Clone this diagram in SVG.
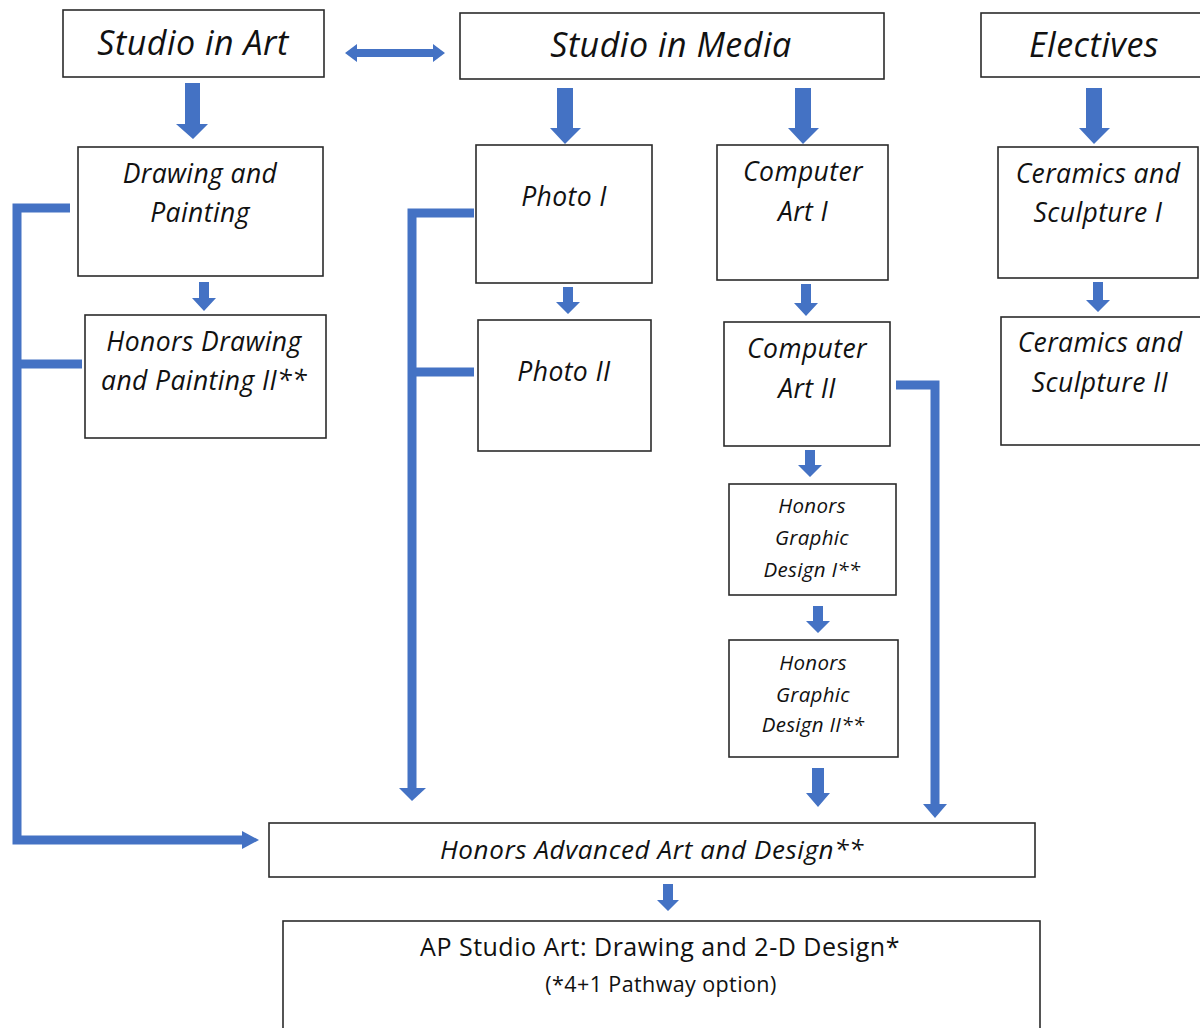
<svg xmlns="http://www.w3.org/2000/svg" width="1200" height="1028" viewBox="0 0 1200 1028">
<style>
.box{fill:#fff;stroke:#2b2b2b;stroke-width:1.6}
.t{font-family:"Open Sans",Lato,sans-serif;font-style:italic;fill:#111;text-anchor:middle}
.big{font-size:34px;letter-spacing:0.5px}
.mid{font-size:26.5px;letter-spacing:0.4px}
.sm{font-size:20.5px;letter-spacing:0.3px}
.ap{font-family:"Open Sans",Lato,sans-serif;fill:#111;text-anchor:middle}
.arr{fill:#4472C4}
.ln{fill:none;stroke:#4472C4;stroke-width:9;stroke-linejoin:miter}
</style>
<rect width="1200" height="1028" fill="#fff"/>
<g id="connectors">
<polygon class="arr" points="345,53 357,44 357,49 433,49 433,44 445,53 433,62 433,57 357,57 357,62"/>
<polygon class="arr" points="185,83 200,83 200,124 208,124 193,139 176,124 185,124"/>
<polygon class="arr" points="557,88 573,88 573,128 581,128 565,144 550,128 557,128"/>
<polygon class="arr" points="795,88 811,88 811,128 819,128 803,144 788,128 795,128"/>
<polygon class="arr" points="1086,88 1102,88 1102,128 1110,128 1094,144 1079,128 1086,128"/>
<polygon class="arr" points="199,282 209,282 209,298 216,298 204,311 192,298 199,298"/>
<polygon class="arr" points="563,287 573,287 573,302 580,302 568,314 556,302 563,302"/>
<polygon class="arr" points="801,284 811,284 811,303 818,303 806,316 794,303 801,303"/>
<polygon class="arr" points="1093,282 1103,282 1103,300 1110,300 1098,312 1086,300 1093,300"/>
<polygon class="arr" points="805,450 815,450 815,465 822,465 810,477 798,465 805,465"/>
<polygon class="arr" points="813,606 823,606 823,621 830,621 818,633 806,621 813,621"/>
<polygon class="arr" points="812,768 824,768 824,793 830,793 818,807 806,793 812,793"/>
<polygon class="arr" points="663,884 673,884 673,900 679,900 668,911 657,900 663,900"/>
<path class="ln" d="M70,208 H17 V840 H244"/>
<path class="ln" d="M17,364 H82"/>
<polygon class="arr" points="242,831 259,840 242,849"/>
<path class="ln" d="M474,213 H412 V790"/>
<path class="ln" d="M412,372 H474"/>
<polygon class="arr" points="399,788 426,788 412,801"/>
<path class="ln" d="M896,385 H935 V806"/>
<polygon class="arr" points="923,804 947,804 935,818"/>
</g>
<g id="studio-in-art"><rect class="box" x="63" y="10" width="261" height="67"/><text class="t big" x="193" y="55">Studio in Art</text></g>
<g id="studio-in-media"><rect class="box" x="460" y="13" width="424" height="66"/><text class="t big" x="671" y="57">Studio in Media</text></g>
<g id="electives"><rect class="box" x="981" y="13" width="230" height="64"/><text class="t big" x="1094" y="57">Electives</text></g>
<g id="drawing-painting"><rect class="box" x="78" y="147" width="245" height="129"/><text class="t mid" x="200" y="183">Drawing and</text><text class="t mid" x="200" y="222">Painting</text></g>
<g id="honors-drawing"><rect class="box" x="85" y="315" width="241" height="123"/><text class="t mid" x="204" y="351">Honors Drawing</text><text class="t mid" x="204" y="390">and Painting II**</text></g>
<g id="photo-1"><rect class="box" x="476" y="145" width="176" height="138"/><text class="t mid" x="564" y="206">Photo I</text></g>
<g id="photo-2"><rect class="box" x="478" y="320" width="173" height="131"/><text class="t mid" x="564" y="381">Photo II</text></g>
<g id="computer-art-1"><rect class="box" x="717" y="145" width="171" height="135"/><text class="t mid" x="803" y="181">Computer</text><text class="t mid" x="803" y="221">Art I</text></g>
<g id="computer-art-2"><rect class="box" x="724" y="322" width="166" height="124"/><text class="t mid" x="807" y="358">Computer</text><text class="t mid" x="807" y="398">Art II</text></g>
<g id="honors-graphic-1"><rect class="box" x="729" y="484" width="167" height="111"/><text class="t sm" x="812" y="513">Honors</text><text class="t sm" x="812" y="545">Graphic</text><text class="t sm" x="812" y="577">Design I**</text></g>
<g id="honors-graphic-2"><rect class="box" x="729" y="640" width="169" height="117"/><text class="t sm" x="813" y="670">Honors</text><text class="t sm" x="813" y="702">Graphic</text><text class="t sm" x="813" y="732">Design II**</text></g>
<g id="ceramics-1"><rect class="box" x="998" y="147" width="200" height="131"/><text class="t mid" x="1098" y="183">Ceramics and</text><text class="t mid" x="1098" y="222">Sculpture I</text></g>
<g id="ceramics-2"><rect class="box" x="1001" y="317" width="210" height="128"/><text class="t mid" x="1100" y="352">Ceramics and</text><text class="t mid" x="1100" y="392">Sculpture II</text></g>
<g id="honors-advanced"><rect class="box" x="269" y="823" width="766" height="54"/><text class="t" x="652" y="859" font-size="26" letter-spacing="0.6">Honors Advanced Art and Design**</text></g>
<g id="ap-studio"><rect class="box" x="283" y="921" width="757" height="120"/><text class="ap" x="660" y="956" font-size="25" letter-spacing="0.5">AP Studio Art: Drawing and 2-D Design*</text><text class="ap" x="661" y="992" font-size="21.5" letter-spacing="0.4">(*4+1 Pathway option)</text></g>
</svg>
